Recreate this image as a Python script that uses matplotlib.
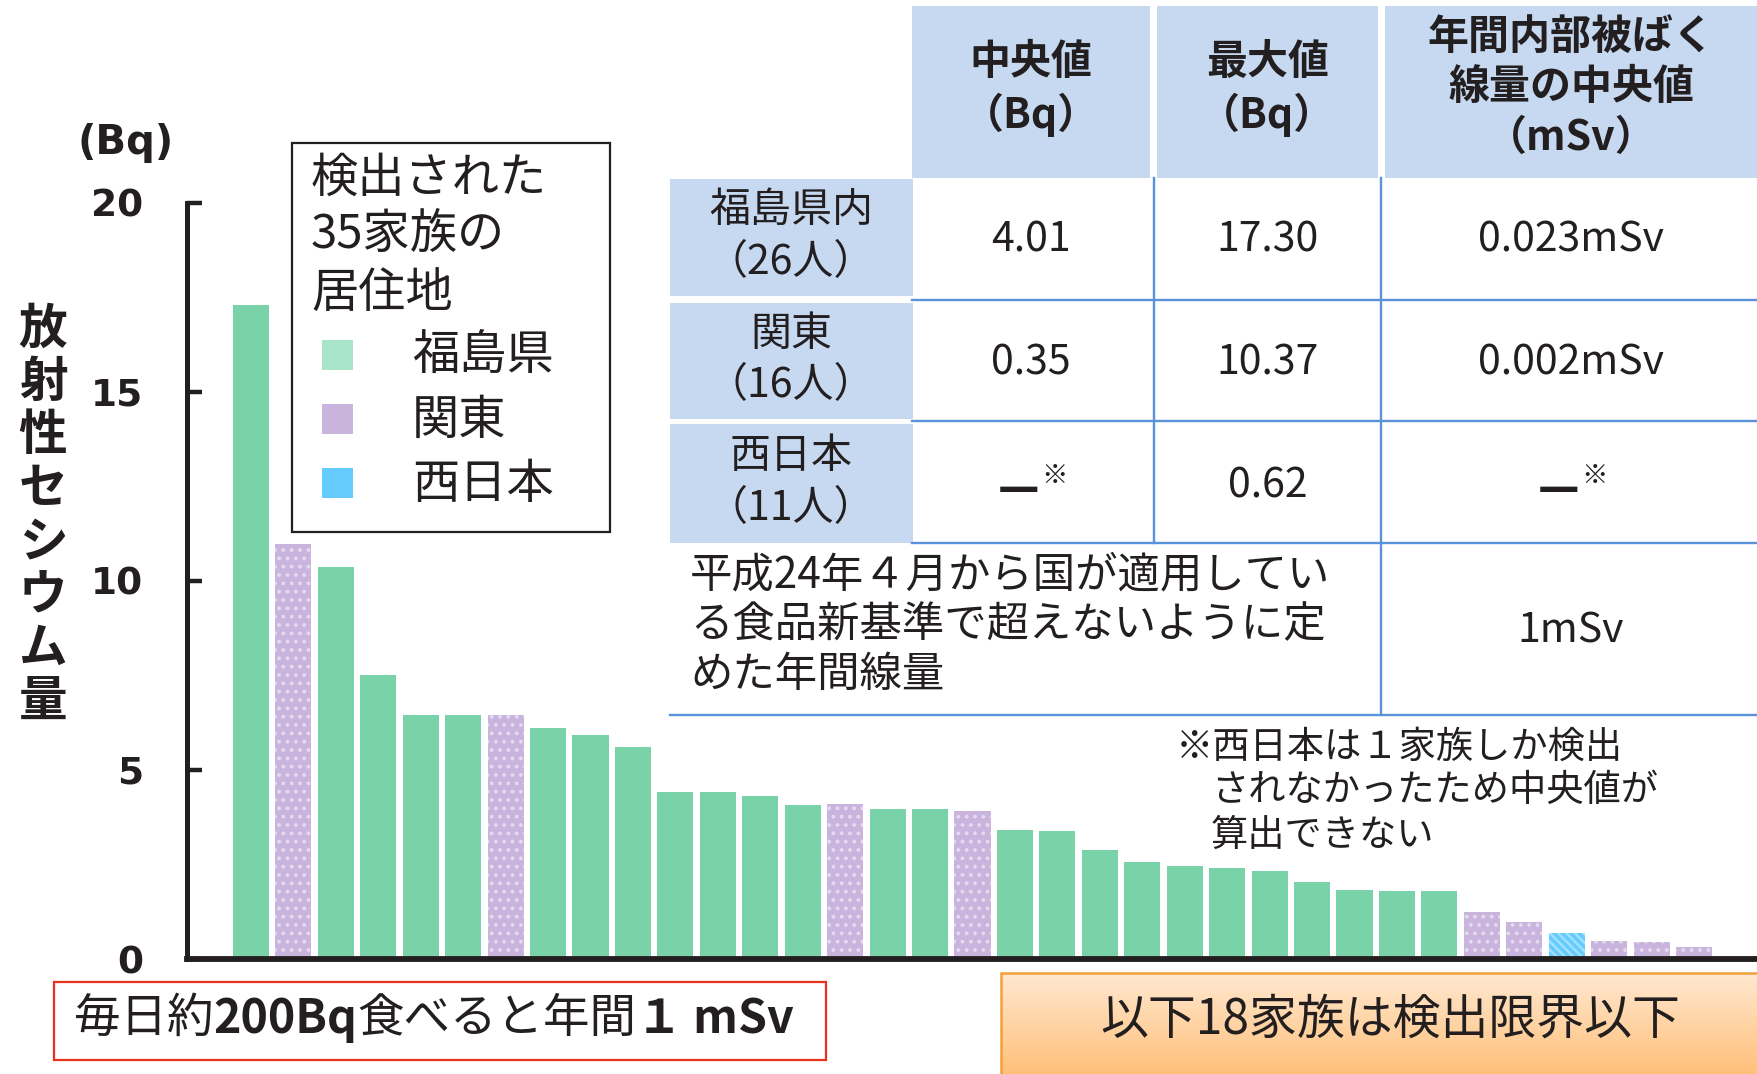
import numpy as np
import matplotlib.pyplot as plt
from matplotlib.patches import Rectangle
from matplotlib.lines import Line2D

JP = ['Noto Sans CJK JP', 'DejaVu Sans']
plt.rcParams['font.family'] = JP
plt.rcParams['hatch.linewidth'] = 1.6

# --- data ---
values = [17.30, 10.96, 10.36, 7.52, 6.45, 6.45, 6.45, 6.10, 5.92, 5.60,
          4.41, 4.41, 4.30, 4.06, 4.09, 3.96, 3.96, 3.91, 3.40, 3.38,
          2.87, 2.56, 2.45, 2.40, 2.34, 2.03, 1.82, 1.79, 1.79, 1.23,
          0.97, 0.68, 0.47, 0.44, 0.31]
regions = ['F', 'K', 'F', 'F', 'F', 'F', 'K', 'F', 'F', 'F',
           'F', 'F', 'F', 'F', 'K', 'F', 'F', 'K', 'F', 'F',
           'F', 'F', 'F', 'F', 'F', 'F', 'F', 'F', 'F', 'K',
           'K', 'W', 'K', 'K', 'K']
region_keys = ['F', 'K', 'W']
region_names = ['福島県', '関東', '西日本']
y_ticks = [0, 5, 10, 15, 20]

legend_title = ['検出された', '35家族の', '居住地']

col_heads = [['中央値', '（Bq）'], ['最大値', '（Bq）'],
             ['年間内部被ばく', '線量の中央値', '（mSv）']]
row_heads = [['福島県内', '（26人）'], ['関東', '（16人）'], ['西日本', '（11人）']]
median_bq = ['4.01', '0.35', None]
max_bq = ['17.30', '10.37', '0.62']
median_msv = ['0.023mSv', '0.002mSv', None]
limit_lines = ['平成24年４月から国が適用してい', 'る食品新基準で超えないように定', 'めた年間線量']
limit_value = '1mSv'
note_lines = ['※西日本は１家族しか検出', 'されなかったため中央値が', '算出できない']
intake_parts = [('毎日約', 'normal'), ('200Bq', 'bold'), ('食べると年間', 'normal'), ('１ mSv', 'bold')]
below_limit = '以下18家族は検出限界以下'

# --- styling ---
TXT = '#231F20'
bar_color = {'F': '#7AD2A8', 'K': '#C8B4DC', 'W': '#66CCFF'}
hatch_color = {'F': '#7AD2A8', 'K': '#E4DAEF', 'W': '#A6E2FF'}
hatch = {'F': None, 'K': '..', 'W': '\\\\\\\\'}
legend_color = {'F': '#A8E4C8', 'K': '#C8B4DC', 'W': '#66CCFF'}
HEAD = '#C6D9F0'
GRID = '#5B93DB'

W, H = 1758, 1074


def fx(px):
    return px / W


def fy(py):
    return 1 - py / H


fig = plt.figure(figsize=(W / 100, H / 100), dpi=100)


def put(x, y, s, size, weight='normal', ha='center', family=JP):
    return fig.text(fx(x), fy(y), s, fontsize=size, fontweight=weight,
                    ha=ha, va='center', color=TXT, family=family)


# --- bar chart ---
ax = fig.add_axes([fx(187.5), fy(959), 1 - fx(187.5), (959 - 202.6) / H])
x = np.arange(len(values))
vals = np.array(values)
reg = np.array(regions)
for k in region_keys:
    m = reg == k
    ax.bar(x[m], vals[m], width=0.85, color=bar_color[k], hatch=hatch[k],
           edgecolor=hatch_color[k], linewidth=0)

ax.set_xlim(-1.496, 35.508)
ax.set_ylim(0, 20)
ax.set_xticks([])
ax.set_yticks(y_ticks)
ax.set_yticklabels([str(t) for t in y_ticks], fontsize=27, fontweight='bold',
                   family='DejaVu Sans', color=TXT)
ax.tick_params(axis='y', direction='in', length=11, width=3.2, pad=32, color=TXT)
for s in ['top', 'right']:
    ax.spines[s].set_visible(False)
ax.spines['left'].set_linewidth(3.6)
ax.spines['bottom'].set_linewidth(4.2)
ax.spines['left'].set_color(TXT)
ax.spines['bottom'].set_color(TXT)

# axis titles
put(126, 143, '(Bq)', 29, 'bold', family='DejaVu Sans')
for i, ch in enumerate('放射性セシウム量'):
    put(43, 329 + i * 53.3, ch, 35, 'bold')

# --- legend box ---
fig.add_artist(Rectangle((fx(291.7), fy(532)), fx(610) - fx(291.7), fy(143) - fy(532),
                         transform=fig.transFigure, fill=False, ec=TXT, lw=1.6))
for i, s in enumerate(legend_title):
    put(311, 178 + i * 58, s, 34, ha='left')
for i, (k, name) in enumerate(zip(region_keys, region_names)):
    yc = 355 + i * 64
    fig.add_artist(Rectangle((fx(322), fy(yc + 15)), fx(353) - fx(322), (30) / H,
                             transform=fig.transFigure, color=legend_color[k], lw=0))
    put(412, yc + 2, name, 34, ha='left')

# --- table ---
col_x = [(912, 1150), (1157, 1378), (1385, 1770)]
for (x0, x1), lines in zip(col_x, col_heads):
    fig.add_artist(Rectangle((fx(x0), fy(178)), fx(x1) - fx(x0), (178 - 5.5) / H,
                             transform=fig.transFigure, color=HEAD, lw=0))
    xc = (x0 + min(x1, 1758)) / 2
    if len(lines) == 2:
        ys = [62, 115]
    else:
        ys = [37, 87, 138]
    for s, yy in zip(lines, ys):
        put(xc, yy, s, 29.5, 'bold')

row_y = [(179, 296), (303, 419), (424, 543)]
for (y0, y1), lines in zip(row_y, row_heads):
    fig.add_artist(Rectangle((fx(670), fy(y1)), fx(912.7) - fx(670), (y1 - y0) / H,
                             transform=fig.transFigure, color=HEAD, lw=0))
    yc = (y0 + y1) / 2
    put(791, yc - 27, lines[0], 29.5)
    put(791, yc + 25, lines[1], 29.5)

data_x = [1031, 1268, 1571]
for r, (y0, y1) in enumerate(row_y):
    yc = (y0 + y1) / 2 + 2
    for col, xc in zip([median_bq, max_bq, median_msv], data_x):
        s = col[r]
        if s is None:
            put(xc - 12, yc + 3, '—', 30, 'bold', family='DejaVu Sans')
            put(xc + 24, yc - 9, '※', 19)
        else:
            put(xc, yc, s, 29.5)

for s, yy in zip(limit_lines, [575, 625, 675]):
    put(690, yy, s, 30.5, ha='left')
put(1571, 631, limit_value, 29.5)

grid_lines = [((1154.5, 1154.5), (178, 543)), ((1381, 1381), (178, 715)),
              ((912, 1758), (300, 300)), ((912, 1758), (421.5, 421.5)),
              ((912, 1758), (543, 543)), ((670, 1758), (715, 715))]
for xs, ys in grid_lines:
    fig.add_artist(Line2D([fx(v) for v in xs], [fy(v) for v in ys],
                          transform=fig.transFigure, color=GRID, lw=1.7))

# --- footnote ---
put(1176, 747, note_lines[0], 26.8, ha='left')
put(1211, 790, note_lines[1], 26.8, ha='left')
put(1211, 835, note_lines[2], 26.8, ha='left')

# --- bottom boxes ---
fig.add_artist(Rectangle((fx(54), fy(1060)), fx(826) - fx(54), (1060 - 982) / H,
                         transform=fig.transFigure, fill=False, ec='#E8321E', lw=1.6))
t = put(74, 1019, intake_parts[0][0], 33.5, ha='left')
for s, w in intake_parts[1:]:
    t = ax.annotate(s, xy=(1, 0.5), xycoords=t, va='center', ha='left', fontsize=33.5,
                    fontweight=w, color=TXT, annotation_clip=False, family=JP)

gax = fig.add_axes([fx(1001), 0, 1 - fx(1001), fy(973)])
grad = np.linspace(0, 1, 100)[:, None]
top_c = np.array([255, 232, 208]) / 255
bot_c = np.array([255, 192, 122]) / 255
img = top_c[None, None, :] * (1 - grad[:, :, None]) + bot_c[None, None, :] * grad[:, :, None]
gax.imshow(img, aspect='auto', extent=(0, 1, 0, 1))
gax.set_xlim(0, 1)
gax.set_ylim(0, 1)
gax.axis('off')
fig.add_artist(Rectangle((fx(1001), fy(1080)), fx(1765) - fx(1001), (1080 - 973) / H,
                         transform=fig.transFigure, fill=False, ec='#F2A03A', lw=1.8))
put(1390, 1020, below_limit, 34.5)

fig.savefig('out.png', dpi=100)
